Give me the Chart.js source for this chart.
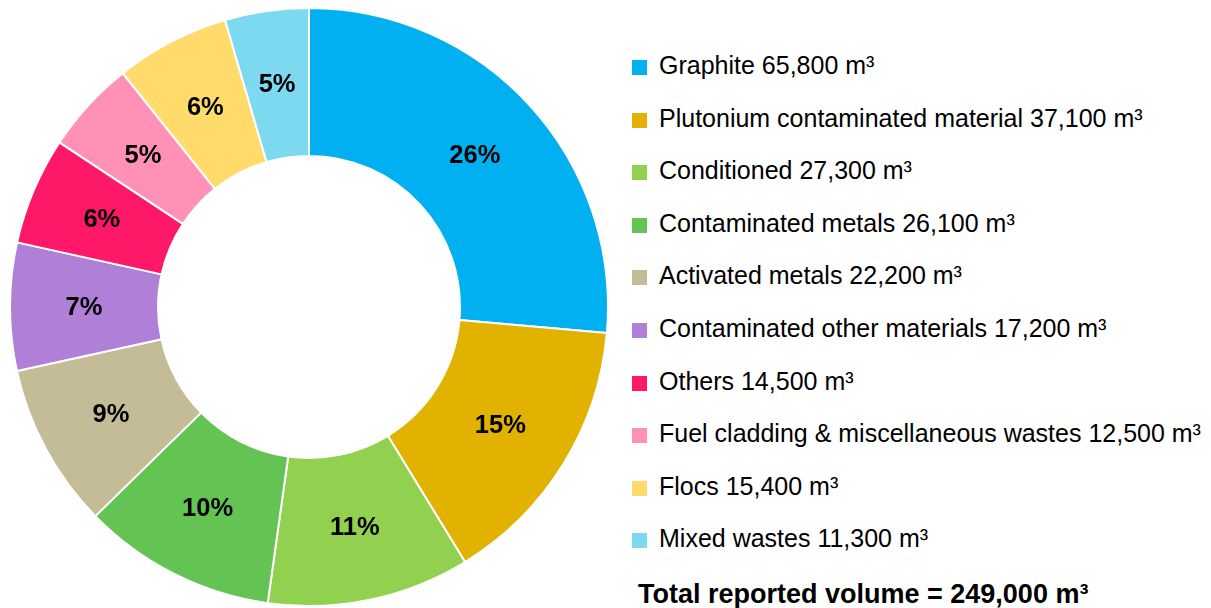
<!DOCTYPE html>
<html>
<head>
<meta charset="utf-8">
<script src="https://cdn.jsdelivr.net/npm/chart.js@4.4.1/dist/chart.umd.min.js"></script>
<style>
  html, body { margin: 0; padding: 0; background: #fff; }
  #wrap { position: relative; width: 1211px; height: 608px; font-family: "Liberation Sans", Arial, sans-serif; }
  #chartBox { position: absolute; left: 9px; top: 7px; width: 600px; height: 600px; }
  .item { position: absolute; left: 632px; height: 30px; line-height: 30px; font-size: 25px; color: #000; white-space: nowrap; }
  .item .box { display: inline-block; width: 15px; height: 15px; margin-right: 12px; vertical-align: -1px; }
  #total { position: absolute; left: 638px; top: 579px; line-height: 30px; font-size: 27px; font-weight: bold; white-space: nowrap; }
</style>
</head>
<body>
<div id="wrap">
  <div id="chartBox"><canvas id="myChart"></canvas></div>
  <div id="legend"></div>
  <div id="total"></div>
</div>
<script>
var labels = ["Graphite", "Plutonium contaminated material", "Conditioned", "Contaminated metals",
              "Activated metals", "Contaminated other materials", "Others",
              "Fuel cladding & miscellaneous wastes", "Flocs", "Mixed wastes"];
var volumes = [65800, 37100, 27300, 26100, 22200, 17200, 14500, 12500, 15400, 11300];
var colors = ["#00B0F0", "#E1B200", "#92D050", "#63C454", "#C4BC97",
              "#B07FD8", "#FF1868", "#FF91B6", "#FFDB6B", "#7DD9F0"];
var totalLabel = "Total reported volume = 249,000 m³";

document.addEventListener('DOMContentLoaded', function(){
    var sum = volumes.reduce(function(a, b){ return a + b; }, 0);

    // percent labels in the middle of each ring segment
    var pctLabels = {
        id: 'pctLabels',
        afterDatasetsDraw: function(chart){
            var ctx = chart.ctx;
            var meta = chart.getDatasetMeta(0);
            ctx.save();
            ctx.font = 'bold 25.5px "Liberation Sans", Arial, sans-serif';
            ctx.fillStyle = '#000';
            ctx.textAlign = 'center';
            ctx.textBaseline = 'middle';
            meta.data.forEach(function(arc, i){
                var p = arc.tooltipPosition();
                ctx.fillText(Math.round(volumes[i] / sum * 100) + '%', p.x, p.y + 1);
            });
            ctx.restore();
        }
    };

    var ctx = document.getElementById("myChart").getContext('2d');
    var myChart = new Chart(ctx, {
        type: 'doughnut',
        data: {
            labels: labels,
            datasets: [{
                data: volumes,
                backgroundColor: colors,
                borderColor: '#fff',
                borderWidth: 2
            }]
        },
        options: {
            responsive: true,
            maintainAspectRatio: false,
            animation: false,
            cutout: '50.5%',
            plugins: {
                legend: { display: false },
                tooltip: { enabled: false }
            }
        },
        plugins: [pctLabels]
    });

    var legend = document.getElementById("legend");
    labels.forEach(function(name, i){
        var row = document.createElement('div');
        row.className = 'item';
        row.style.top = (50 + i * 52.6) + 'px';
        var box = document.createElement('span');
        box.className = 'box';
        box.style.background = colors[i];
        row.appendChild(box);
        row.appendChild(document.createTextNode(name + ' ' + volumes[i].toLocaleString('en-US') + ' m³'));
        legend.appendChild(row);
    });
    document.getElementById("total").textContent = totalLabel;
});
</script>
</body>
</html>
